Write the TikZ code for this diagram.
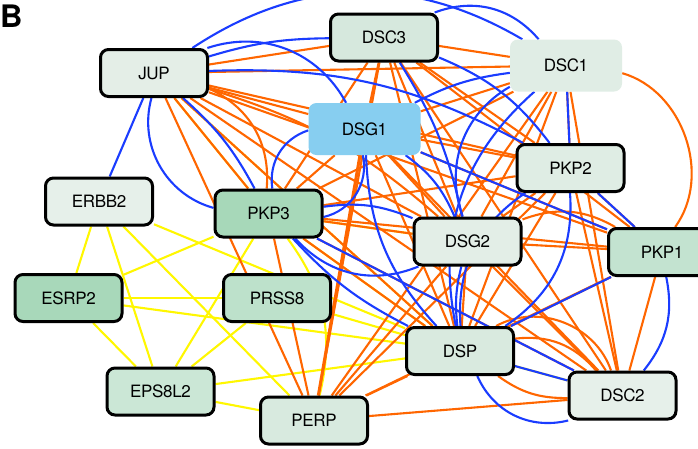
\documentclass[tikz,border=0pt]{standalone}
\usepackage{fontspec}
\setmainfont{TeX Gyre Heros}[LetterSpace=-2]
\newcommand{\genefont}{\fontsize{17}{18}\selectfont}
\pgfdeclarelayer{bgl}
\pgfdeclarelayer{edges}
\pgfsetlayers{bgl,edges,main}
\definecolor{eor}{HTML}{FF6600}
\definecolor{ebl}{HTML}{1A3CFF}
\definecolor{eye}{HTML}{FFF700}
\definecolor{cJUP}{HTML}{E4EEE7}
\definecolor{cDSCiii}{HTML}{D6E8DD}
\definecolor{cDSCi}{HTML}{E0EDE5}
\definecolor{cDSGi}{HTML}{87CEF0}
\definecolor{cERBB}{HTML}{E6F0EA}
\definecolor{cPKPiii}{HTML}{A7D8B9}
\definecolor{cPKPii}{HTML}{DFEDE4}
\definecolor{cDSGii}{HTML}{E3EEE7}
\definecolor{cPKPi}{HTML}{C3E3D0}
\definecolor{cESRP}{HTML}{A8D8BA}
\definecolor{cPRSS}{HTML}{BDE1CB}
\definecolor{cDSP}{HTML}{D9EADF}
\definecolor{cEPS}{HTML}{CBE7D6}
\definecolor{cPERP}{HTML}{D8EADF}
\definecolor{cDSCii}{HTML}{E6F0EA}
\begin{document}
\begin{tikzpicture}[x=1pt,y=-1pt,
  gene/.style={draw=black,line width=3pt,rounded corners=8pt,minimum width=107pt,minimum height=47pt,inner sep=0pt,font=\genefont},
  genenb/.style={rounded corners=8pt,minimum width=112pt,minimum height=52pt,inner sep=0pt,font=\genefont},
  oe/.style={draw=eor,line width=2.1pt},
  be/.style={draw=ebl,line width=2.1pt},
  ye/.style={draw=eye,line width=2.1pt}]
\useasboundingbox (0,0) rectangle (698,448);
\begin{pgfonlayer}{bgl}
\fill[white] (0,0) rectangle (698,448);
\end{pgfonlayer}
\clip (0,0) rectangle (698,448);
% nodes
\node[gene,fill=cJUP] (JUP) at (154,73) {JUP};
\node[gene,fill=cDSCiii] (DSC3) at (384,37.5) {DSC3};
\node[genenb,fill=cDSCi] (DSC1) at (566,65.5) {DSC1};
\node[genenb,fill=cDSGi] (DSG1) at (364.5,129) {DSG1};
\node[gene,fill=cERBB] (ERBB2) at (99,201.5) {ERBB2};
\node[gene,fill=cPKPiii] (PKP3) at (268.5,213.5) {PKP3};
\node[gene,fill=cPKPii] (PKP2) at (570.5,168) {PKP2};
\node[gene,fill=cDSGii] (DSG2) at (467.5,241.5) {DSG2};
\node[gene,fill=cPKPi] (PKP1) at (662,252) {PKP1};
\node[gene,fill=cESRP] (ESRP2) at (68.5,298) {ESRP2};
\node[gene,fill=cPRSS] (PRSS8) at (277,298) {PRSS8};
\node[gene,fill=cDSP] (DSP) at (460,351) {DSP};
\node[gene,fill=cEPS] (EPS8L2) at (160.5,391.5) {EPS8L2};
\node[gene,fill=cPERP] (PERP) at (314,420.5) {PERP};
\node[gene,fill=cDSCii] (DSC2) at (622.5,395.5) {DSC2};
\node[anchor=north west,inner sep=0pt,font=\fontsize{31}{31}\bfseries] (lblB) at (0,4.5) {B};
\begin{pgfonlayer}{edges}
% yellow
\foreach \a/\b in {JUP/PKP3,JUP/DSP,ERBB2/ESRP2,ERBB2/EPS8L2,ERBB2/PERP,ERBB2/DSP,
  ESRP2/PKP3,ESRP2/PRSS8,ESRP2/DSP,ESRP2/EPS8L2,EPS8L2/PKP3,EPS8L2/PRSS8,EPS8L2/DSP,
  EPS8L2/PERP,PRSS8/DSP,PKP3/DSP,PKP3/DSG2,DSP/DSC2}
  \draw[ye] (\a) -- (\b);
\draw[ye] (PKP3) to[bend left=25] (PERP);
% orange straight
\foreach \a/\b in {JUP/DSC3,JUP/DSC1,JUP/DSG1,JUP/PKP2,JUP/DSG2,JUP/PKP1,JUP/DSP,JUP/DSC2,JUP/PKP3,JUP/PERP,
  DSC3/DSC1,DSC3/DSG1,DSC3/PKP2,DSC3/DSG2,DSC3/PKP1,DSC3/DSP,DSC3/DSC2,DSC3/PKP3,DSC3/PERP,
  DSC1/DSG1,DSC1/PKP2,DSC1/DSG2,DSC1/DSP,DSC1/DSC2,DSC1/PKP3,DSC1/PERP,
  DSG1/PKP2,DSG1/DSG2,DSG1/PKP1,DSG1/DSP,DSG1/DSC2,DSG1/PKP3,
  PKP2/DSG2,PKP2/PKP1,PKP2/DSP,PKP2/DSC2,PKP2/PKP3,PKP2/PERP,
  DSG2/PKP1,DSG2/DSP,DSG2/DSC2,DSG2/PKP3,DSG2/PERP,
  PKP1/DSP,PKP1/DSC2,PKP1/PKP3,PKP1/PERP,
  DSP/PKP3,DSP/PERP,DSC2/PKP3,DSC2/PERP,PKP3/PERP}
  \draw[oe] (\a) -- (\b);
\draw[oe,line width=3pt] (DSG1) -- (PERP);
% orange curved
\draw[oe] (DSC1) to[bend left=55] (PKP1);
\draw[oe] (DSG2) to[bend left=25] (PKP1);
\draw[oe] (DSP) to[bend left=50] (DSC2);
\draw[oe] (DSP) to[bend left=28] (DSC2);
\draw[oe] (DSP) to[bend right=18] (DSC2);
\draw[oe] (JUP) to[bend left=12] (DSG2);
\draw[oe] (JUP) to[bend left=35] (PKP3);
% blue
\draw[be] (JUP) -- (ERBB2);
\draw[be] (JUP) to[bend right=45] (PKP3);
\draw[be] (JUP) to[bend left=10] (PKP3);
\draw[be] (JUP) to[bend left=32] (DSC1);
\draw[be] (JUP) to[bend left=8] (DSC3);
\draw[be] (JUP) to[bend left=40] (DSG1);
\draw[be] (JUP) to[bend left=15] (PKP2);
\draw[be] (DSC3) to[bend left=35] (DSC1);
\draw[be] (DSC3) to[bend left=15] (PKP2);
\draw[be] (DSC3) to[bend left=10] (DSG2);
\draw[be] (DSG1) to[bend left=10] (DSC1);
\draw[be] (DSC1) to[bend right=40] (DSG2);
\draw[be] (DSC1) to[bend right=30] (DSP);
\draw[be] (DSC1) -- (PKP2);
\draw[be] (DSG1) to[bend left=15] (DSG2);
\draw[be] (DSG1) to[bend right=20] (DSP);
\draw[be] (DSG1) to[bend left=45] (PKP3);
\draw[be] (DSG1) to[bend right=40] (PKP3);
\draw[be] (DSG1) -- (PKP1);
\draw[be] (PKP2) -- (PKP1);
\draw[be] (DSP) to[bend left=30] (PKP2);
\draw[be] (DSP) to[bend right=30] (PKP2);
\draw[be] (DSG2) to[bend right=10] (DSP);
\draw[be] (DSP) -- (PKP1);
\draw[be] (DSP) -- (DSC2);
\draw[be] (DSP) to[bend right=40] (DSC2);
\draw[be] (PKP1) to[bend left=25] (DSC2);
\draw[be] (PKP3) to[bend left=15] (DSG2);
\draw[be] (PKP3) to[bend right=35] (DSG2);
\draw[be] (PKP3) to[bend right=10] (DSP);
\draw[be] (PKP3) -- (DSC2);
\end{pgfonlayer}
\end{tikzpicture}
\end{document}
